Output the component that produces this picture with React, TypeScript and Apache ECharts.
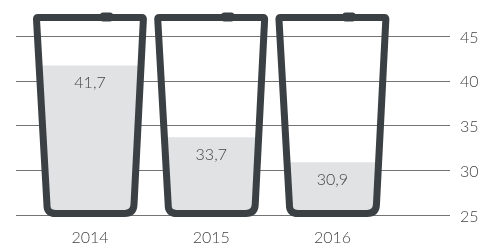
import React, { useEffect, useRef } from "react";
import * as echarts from "echarts";

const categories = ["2014", "2015", "2016"];
const values = [41.7, 33.7, 30.9];
const yMin = 25;
const yMax = 45;
const yInterval = 5;

const GLASS = "#3a4043";
const FILL = "#e1e2e4";
const TEXT = "#454545";
const FONT = "Lato, 'Open Sans', sans-serif";
const FS = 16;

export default function App() {
  const ref = useRef<HTMLDivElement>(null);

  useEffect(() => {
    if (!ref.current) return;
    const chart = echarts.init(ref.current, null, { renderer: "svg" });

    const renderItem = (params: any, api: any) => {
      const i = api.value(0);
      const v = api.value(1);
      const p25 = api.coord([i, yMin]);
      const cx = p25[0];
      const yv = api.coord([i, v])[1];
      const yt = api.coord([i, 47.07])[1];
      const yb = p25[1] - 1.5;
      const bw = api.size([1, 0])[0];
      const ht = bw * 0.441;
      const hb = bw * 0.359;
      const rt = 1.5;
      const rb = 9;

      const TL = [cx - ht, yt];
      const TR = [cx + ht, yt];
      const BR = [cx + hb, yb];
      const BL = [cx - hb, yb];
      const len = Math.hypot(ht - hb, yb - yt);
      const dR = [(hb - ht) / len, (yb - yt) / len];
      const dL = [(ht - hb) / len, (yt - yb) / len];

      const f = (n: number) => n.toFixed(2);
      const glassPath = [
        `M ${f(TL[0] + rt)} ${f(TL[1])}`,
        `L ${f(TR[0] - rt)} ${f(TR[1])}`,
        `Q ${f(TR[0])} ${f(TR[1])} ${f(TR[0] + dR[0] * rt)} ${f(TR[1] + dR[1] * rt)}`,
        `L ${f(BR[0] - dR[0] * rb)} ${f(BR[1] - dR[1] * rb)}`,
        `Q ${f(BR[0])} ${f(BR[1])} ${f(BR[0] - rb)} ${f(BR[1])}`,
        `L ${f(BL[0] + rb)} ${f(BL[1])}`,
        `Q ${f(BL[0])} ${f(BL[1])} ${f(BL[0] + dL[0] * rb)} ${f(BL[1] + dL[1] * rb)}`,
        `L ${f(TL[0] - dL[0] * rt)} ${f(TL[1] - dL[1] * rt)}`,
        `Q ${f(TL[0])} ${f(TL[1])} ${f(TL[0] + rt)} ${f(TL[1])}`,
        "Z",
      ].join(" ");

      const t = (yv - yt) / (yb - yt);
      const halfAt = ht + (hb - ht) * t;
      const fillPath = [
        `M ${f(cx - halfAt)} ${f(yv)}`,
        `L ${f(cx + halfAt)} ${f(yv)}`,
        `L ${f(BR[0] - dR[0] * rb)} ${f(BR[1] - dR[1] * rb)}`,
        `Q ${f(BR[0])} ${f(BR[1])} ${f(BR[0] - rb)} ${f(BR[1])}`,
        `L ${f(BL[0] + rb)} ${f(BL[1])}`,
        `Q ${f(BL[0])} ${f(BL[1])} ${f(BL[0] + dL[0] * rb)} ${f(BL[1] + dL[1] * rb)}`,
        "Z",
      ].join(" ");

      return {
        type: "group",
        children: [
          {
            type: "path",
            shape: { pathData: fillPath },
            style: { fill: FILL, stroke: null },
          },
          {
            type: "text",
            style: {
              text: String(v).replace(".", ","),
              x: cx,
              y: yv + 16,
              align: "center",
              verticalAlign: "middle",
              fontSize: FS,
              fontWeight: 300,
              fontFamily: FONT,
              fill: TEXT,
            },
          },
          {
            type: "path",
            shape: { pathData: glassPath },
            style: {
              fill: "none",
              stroke: GLASS,
              lineWidth: 7,
              lineJoin: "round",
            },
          },
          {
            type: "rect",
            shape: { x: cx + 10, y: yt - 5, width: 13, height: 9, r: 3 },
            style: { fill: GLASS },
          },
        ],
      };
    };

    chart.setOption({
      animation: false,
      grid: [
        { left: 16, right: 46, top: 36, bottom: 31 },
        { left: 29.4, right: 102.9, top: 36, bottom: 31 },
      ],
      xAxis: [
        { type: "value", gridIndex: 0, min: 0, max: 1, show: false },
        {
          type: "category",
          gridIndex: 1,
          data: categories,
          axisLine: { show: false },
          axisTick: { show: false },
          splitLine: { show: false },
          axisLabel: {
            margin: 13,
            fontSize: FS,
            fontWeight: 300,
            color: TEXT,
            fontFamily: FONT,
          },
        },
      ],
      yAxis: [
        {
          type: "value",
          gridIndex: 0,
          position: "right",
          min: yMin,
          max: yMax,
          interval: yInterval,
          axisLine: { show: false },
          axisTick: { show: false },
          splitLine: { show: true, lineStyle: { color: "#747474", width: 1 } },
          axisLabel: {
            margin: 10,
            fontSize: FS,
            fontWeight: 300,
            color: TEXT,
            fontFamily: FONT,
          },
        },
        {
          type: "value",
          gridIndex: 1,
          min: yMin,
          max: yMax,
          interval: yInterval,
          show: false,
          splitLine: { show: false },
        },
      ],
      series: [
        {
          type: "custom",
          xAxisIndex: 1,
          yAxisIndex: 1,
          clip: false,
          renderItem,
          data: categories.map((_, i) => [i, values[i]]),
        },
      ],
    });

    return () => chart.dispose();
  }, []);

  return (
    <div
      ref={ref}
      style={{ position: "fixed", left: 0, top: 0, width: 496, height: 246 }}
    />
  );
}
